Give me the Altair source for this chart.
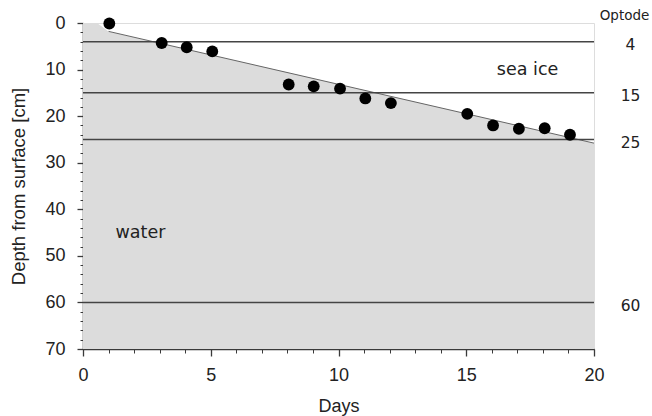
import altair as alt
import pandas as pd

# --- data ---
days = [1.03, 3.08, 4.06, 5.06, 8.05, 9.03, 10.06, 11.05, 12.05, 15.04, 16.05, 17.06, 18.07, 19.06]
depths = [0.1, 4.3, 5.2, 6.1, 13.2, 13.6, 14.1, 16.2, 17.2, 19.5, 22.0, 22.7, 22.6, 24.0]

ice_days = [0.0, 0.55, 1.0, 20.0]
ice_depths = [0.0, 0.0, 1.8, 25.8]
bottom_depth = 70

optode_depths = [4, 15, 25, 60]

region_names = ["sea ice", "water"]
region_days = [17.4, 2.25]
region_depths = [10.0, 45.0]

x_major = [0, 5, 10, 15, 20]
x_minor = list(range(0, 21))
y_major = [0, 10, 20, 30, 40, 50, 60, 70]
y_minor = list(range(0, 71, 2))

pts = pd.DataFrame({"day": days, "depth": depths})
ice = pd.DataFrame({"day": ice_days, "depth": ice_depths, "bottom": [bottom_depth] * len(ice_days)})
line_df = ice.iloc[2:]
opt = pd.DataFrame({"depth": optode_depths})
regions = pd.DataFrame({"name": region_names, "day": region_days, "depth": region_depths})

W, H = 511, 326
AX = "#3a3a3a"
FONT = "Liberation Sans"
FONT2 = "DejaVu Sans"

xs = alt.Scale(domain=[0, 20], nice=False, zero=False)
ys = alt.Scale(domain=[0, 70], reverse=True, nice=False, zero=False)

x_major_axis = alt.Axis(values=x_major, title="Days", orient="bottom", grid=False, labelFlush=False,
                        tickSize=7, tickColor=AX, tickWidth=1.3, domainColor=AX, domainWidth=1.5,
                        labelFont=FONT, labelFontSize=18, labelColor="#222", labelPadding=10,
                        titleFont=FONT, titleFontSize=18, titleFontWeight="normal", titleColor="#222",
                        titlePadding=13)
x_minor_axis = alt.Axis(values=x_minor, title=None, orient="bottom", grid=False, labels=False,
                        tickSize=4, tickColor=AX, tickWidth=1, domain=False)
y_major_axis = alt.Axis(values=y_major, title="Depth from surface [cm]", orient="left", grid=False,
                        labelFlush=False,
                        tickSize=6, tickColor=AX, tickWidth=1.3, domainColor=AX, domainWidth=1.5,
                        labelFont=FONT, labelFontSize=18, labelColor="#222", labelPadding=12,
                        titleFont=FONT, titleFontSize=18.5, titleFontWeight="normal", titleColor="#222",
                        titlePadding=16)
y_minor_axis = alt.Axis(values=y_minor, title=None, orient="left", grid=False, labels=False,
                        tickSize=3, tickColor=AX, tickWidth=1, domain=False)
y_right_axis = alt.Axis(values=optode_depths, title="Optode", orient="right", grid=False,
                        ticks=False, domain=False, labelFont=FONT2, labelFontSize=15.5,
                        labelColor="#222", labelAlign="center", labelPadding=36, labelOffset=3,
                        labelFlush=False,
                        titleFont=FONT2, titleFontSize=13.5, titleFontWeight="normal", titleColor="#222",
                        titleAngle=0, titleX=30, titleY=-8, titleAlign="center", titleBaseline="middle")

area = alt.Chart(ice).mark_area(color="#dcdcdc", opacity=1).encode(
    x=alt.X("day:Q", scale=xs, axis=x_major_axis),
    y=alt.Y("depth:Q", scale=ys, axis=y_major_axis),
    y2="bottom:Q",
)

edge = alt.Chart(line_df).mark_line(color="#666666", strokeWidth=1).encode(
    x=alt.X("day:Q", scale=xs, axis=x_minor_axis),
    y=alt.Y("depth:Q", scale=ys, axis=y_minor_axis),
)

rules = alt.Chart(opt).mark_rule(color="#444444", strokeWidth=1.5).encode(
    y=alt.Y("depth:Q", scale=ys, axis=y_right_axis),
)

points = alt.Chart(pts).mark_circle(color="black", size=140, opacity=1).encode(
    x=alt.X("day:Q", scale=xs, axis=None),
    y=alt.Y("depth:Q", scale=ys, axis=None),
)

texts = alt.Chart(regions).mark_text(font=FONT2, fontSize=17.5, color="#222", align="center",
                                     baseline="middle").encode(
    x=alt.X("day:Q", scale=xs, axis=None),
    y=alt.Y("depth:Q", scale=ys, axis=None),
    text="name:N",
)

chart = alt.layer(area, edge, rules, points, texts).resolve_axis(
    x="independent", y="independent"
).properties(
    width=W, height=H,
    autosize=alt.AutoSizeParams(type="none"),
    padding={"left": 83, "top": 23, "right": 58, "bottom": 67},
).configure_view(stroke=AX, strokeWidth=1.5).configure(background="white")

chart.save("out.html", embed_options={"renderer": "svg", "actions": False})
